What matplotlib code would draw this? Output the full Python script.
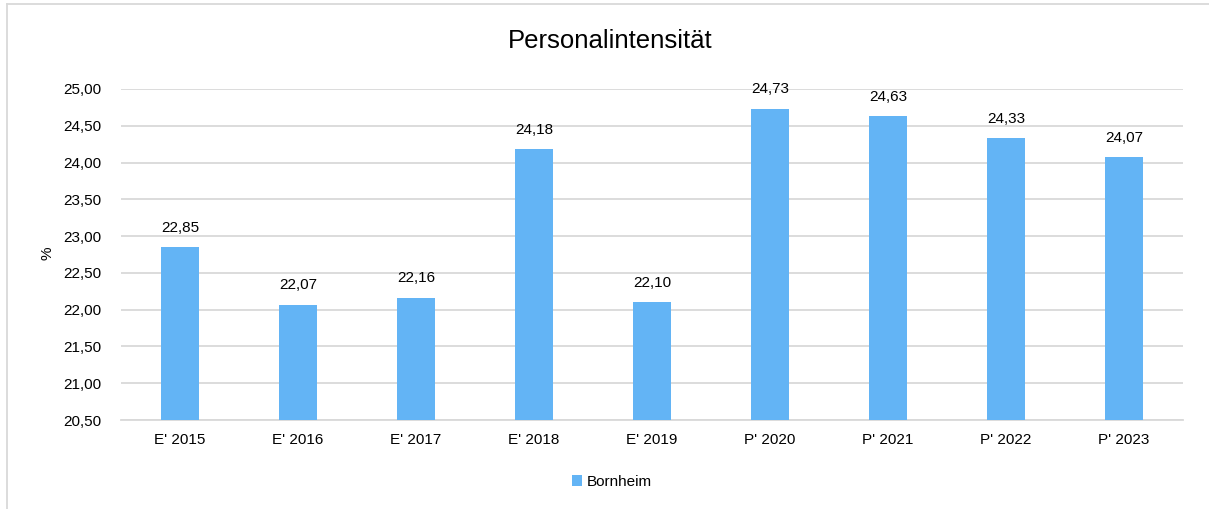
import matplotlib
matplotlib.use("Agg")
import matplotlib.pyplot as plt
from matplotlib.lines import Line2D
from matplotlib.patches import Patch

categories = ["E' 2015", "E' 2016", "E' 2017", "E' 2018", "E' 2019",
              "P' 2020", "P' 2021", "P' 2022", "P' 2023"]
values = [22.85, 22.07, 22.16, 24.18, 22.10, 24.73, 24.63, 24.33, 24.07]
yticks = [20.5, 21.0, 21.5, 22.0, 22.5, 23.0, 23.5, 24.0, 24.5, 25.0]
series_name = "Bornheim"
title = "Personalintensität"

plt.rcParams['font.family'] = ['Liberation Sans', 'DejaVu Sans']

W, H = 1209, 509
fig = plt.figure(figsize=(W / 100, H / 100), dpi=100)
ax = fig.add_axes([121 / W, 1 - 420 / H, (1183 - 121) / W, (420 - 89) / H])

bar_color = '#63B4F5'
grid_color = '#D9D9D9'
fs = 11

x = list(range(len(categories)))
ax.bar(x, values, width=0.315, color=bar_color, zorder=3)
ax.set_xlim(-0.5, len(categories) - 0.5)
ax.set_ylim(20.5, 25.0)
ax.set_yticks(yticks)
ax.set_yticklabels([f"{v:.2f}".replace('.', ',') for v in yticks], fontsize=fs)
ax.set_xticks(x)
ax.set_xticklabels(categories, fontsize=fs)
ax.tick_params(axis='both', length=0, pad=9)
ax.tick_params(axis='y', pad=14)
ax.grid(axis='y', color=grid_color, linewidth=1.3, zorder=0)
for s in ['top', 'right', 'left']:
    ax.spines[s].set_visible(False)
ax.spines['bottom'].set_color(grid_color)
ax.spines['bottom'].set_linewidth(1.3)

for xi, v in zip(x, values):
    ax.annotate(f"{v:.2f}".replace('.', ','), (xi, v), xytext=(0, 9),
                textcoords='offset points', ha='center', va='bottom', fontsize=fs)

fig.text(47 / W, 1 - 253 / H, '%', rotation=90, ha='center', va='center', fontsize=fs)

fig.text(610 / W, 1 - 41 / H, title, ha='center', va='center', fontsize=18.5)

handles = [Patch(facecolor=bar_color, edgecolor='none', label=series_name)]
fig.legend(handles=handles, loc='center', bbox_to_anchor=(612 / W, 1 - 482 / H),
           frameon=False, fontsize=fs, handlelength=0.7, handleheight=0.7,
           handletextpad=0.3)

# partial chart border (top and left)
fig.add_artist(Line2D([7 / W, 7 / W], [0, 1 - 4 / H], color=grid_color, linewidth=1.3,
                      transform=fig.transFigure))
fig.add_artist(Line2D([7 / W, 1], [1 - 4 / H, 1 - 4 / H], color=grid_color, linewidth=1.3,
                      transform=fig.transFigure))

fig.savefig('out.png', dpi=100)
